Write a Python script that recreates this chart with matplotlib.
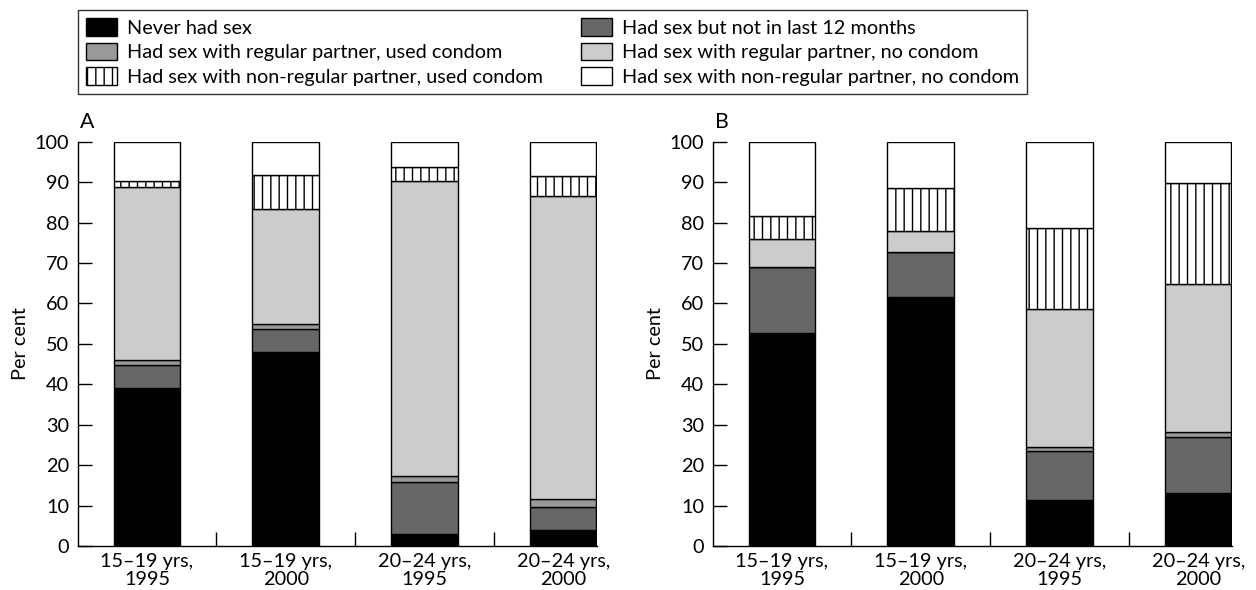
import matplotlib
matplotlib.use("Agg")
import matplotlib.pyplot as plt
import numpy as np

plt.rcParams['font.family'] = ['Lato', 'DejaVu Sans']
plt.rcParams['hatch.linewidth'] = 1.0

categories = ["15–19 yrs,\n1995", "15–19 yrs,\n2000", "20–24 yrs,\n1995", "20–24 yrs,\n2000"]
series_names = [
    "Never had sex",
    "Had sex but not in last 12 months",
    "Had sex with regular partner, used condom",
    "Had sex with regular partner, no condom",
    "Had sex with non-regular partner, used condom",
    "Had sex with non-regular partner, no condom",
]

# Panel A
a_never = [39.0, 48.0, 2.9, 3.9]
a_not12 = [5.7, 5.6, 13.0, 5.8]
a_reg_condom = [1.2, 1.2, 1.3, 2.0]
a_reg_nocondom = [42.8, 28.6, 73.1, 74.8]
a_nonreg_condom = [1.7, 8.3, 3.5, 5.1]
a_nonreg_nocondom = [9.6, 8.3, 6.2, 8.4]

# Panel B
b_never = [52.8, 61.6, 11.4, 13.1]
b_not12 = [16.1, 11.0, 12.1, 13.8]
b_reg_condom = [0.0, 0.0, 0.9, 1.4]
b_reg_nocondom = [7.1, 5.2, 34.1, 36.4]
b_nonreg_condom = [5.7, 10.7, 20.1, 25.1]
b_nonreg_nocondom = [18.3, 11.5, 21.4, 10.2]

styles = [
    dict(facecolor="#000000", hatch=None),
    dict(facecolor="#666666", hatch=None),
    dict(facecolor="#999999", hatch=None),
    dict(facecolor="#cccccc", hatch=None),
    dict(facecolor="#ffffff", hatch="||"),
    dict(facecolor="#ffffff", hatch=None),
]

fig = plt.figure(figsize=(12.56, 5.9), dpi=100)

# choose font size so the longest legend label spans ~417 px like the reference
probe = fig.text(0, 0, series_names[4], fontsize=13.5)
rend = fig.canvas.get_renderer()
w = probe.get_window_extent(renderer=rend).width
probe.remove()
FS = min(15.0, max(12.5, 13.5 * 417.0 / w))

axA = fig.add_axes([77.5/1256, 1-546/590, 519/1256, (546-141.7)/590])
axB = fig.add_axes([712.5/1256, 1-546/590, 519/1256, (546-141.7)/590])

handles = None
for ax, data, letter in [
    (axA, [a_never, a_not12, a_reg_condom, a_reg_nocondom, a_nonreg_condom, a_nonreg_nocondom], "A"),
    (axB, [b_never, b_not12, b_reg_condom, b_reg_nocondom, b_nonreg_condom, b_nonreg_nocondom], "B"),
]:
    x = np.arange(len(categories))
    bottom = np.zeros(len(categories))
    hs = []
    for name, vals, st in zip(series_names, data, styles):
        h = ax.bar(x, vals, width=0.48, bottom=bottom, color=st["facecolor"],
                   edgecolor="black", linewidth=1.0, hatch=st["hatch"], label=name)
        bottom += np.array(vals)
        hs.append(h)
    handles = hs
    ax.set_xlim(-0.5, 3.24)
    ax.set_ylim(0, 100)
    ax.spines['top'].set_visible(False)
    ax.spines['right'].set_visible(False)
    ax.spines['left'].set_linewidth(1.0)
    ax.spines['bottom'].set_linewidth(1.0)
    ax.set_yticks(np.arange(0, 101, 10))
    ax.tick_params(axis='y', direction='in', length=10, width=1.0, labelsize=FS, pad=6)
    ax.set_xticks(x)
    ax.set_xticklabels(categories, fontsize=FS, linespacing=1.1)
    ax.tick_params(axis='x', which='major', length=0, pad=5)
    ax.set_xticks([0.5, 1.5, 2.5], minor=True)
    ax.tick_params(axis='x', which='minor', direction='in', length=10, width=1.0)
    ax.set_ylabel("Per cent", fontsize=FS, labelpad=4)
    ax.text(0.005, 1.025, letter, transform=ax.transAxes, fontsize=FS+1, ha='left', va='bottom')

order = [0, 2, 4, 1, 3, 5]
leg = fig.legend([handles[i] for i in order], [series_names[i] for i in order],
                 ncol=2, loc='upper left', bbox_to_anchor=(77.5/1256, 1-10/590),
                 fontsize=FS, frameon=True, fancybox=False, edgecolor='black',
                 handlelength=1.55, handleheight=1.0, handletextpad=0.5,
                 labelspacing=0.28, columnspacing=1.95, borderpad=0.42, borderaxespad=0)
leg.get_frame().set_linewidth(1.0)

fig.savefig("out.png", dpi=100)
